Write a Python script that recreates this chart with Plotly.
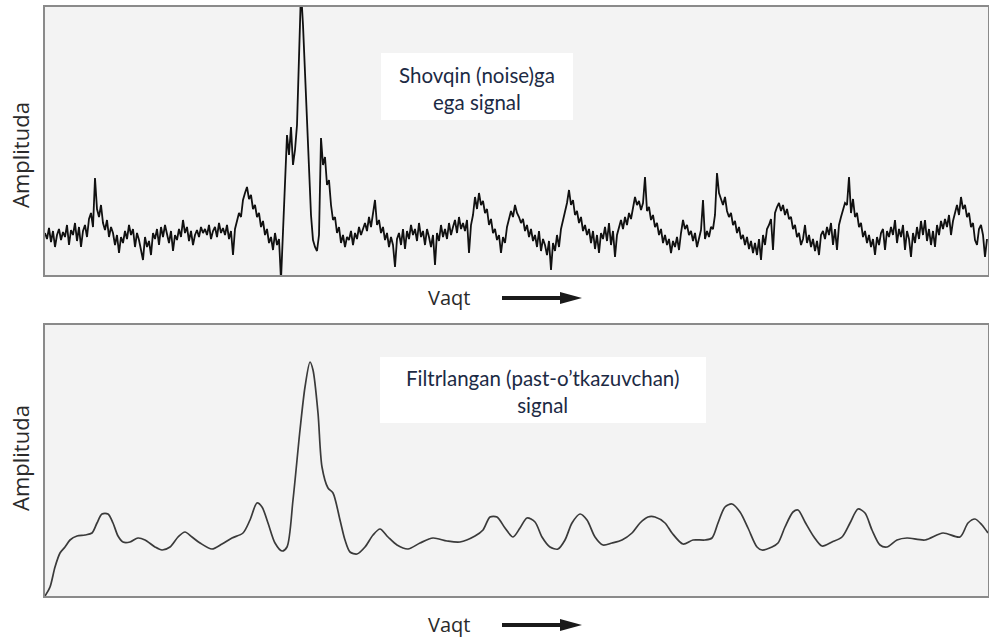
import plotly.graph_objects as go

W, H = 989, 640

# ---- Data (x = time index, values = amplitude) ----
noisy_time = list(range(45, 988, 2))
noisy_amp = [
    42, 36, 47, 33, 44, 28, 40, 46, 35, 43,
    38, 50, 30, 45, 40, 52, 34, 48, 28, 44,
    50, 38, 56, 62, 48, 97, 66, 58, 70, 52,
    45, 55, 38, 48, 42, 30, 40, 22, 38, 32,
    44, 36, 50, 40, 46, 28, 42, 35, 25, 15,
    38, 28, 34, 20, 42, 36, 46, 30, 48, 38,
    50, 40, 32, 44, 24, 40, 35, 46, 38, 55,
    42, 48, 34, 44, 30, 40, 45, 38, 48, 42,
    46, 40, 50, 36, 44, 48, 38, 52, 42, 47,
    40, 50, 36, 44, 20, 46, 55, 62, 58, 75,
    82, 88, 76, 80, 66, 70, 58, 62, 48, 54,
    40, 46, 32, 38, 25, 42, 30, 36, -5, 45,
    88, 140, 120, 148, 110, 125, 150, 215, 285, 250,
    200, 150, 100, 60, 35, 28, 24, 40, 137, 110,
    118, 90, 95, 70, 55, 58, 42, 48, 32, 40,
    28, 38, 35, 44, 30, 42, 36, 48, 40, 46,
    52, 44, 58, 48, 60, 75, 50, 55, 42, 48,
    35, 42, 28, 38, 30, 8, 36, 42, 30, 46,
    26, 44, 36, 50, 40, 46, 34, 52, 38, 44,
    30, 46, 38, 28, 40, 10, 42, 34, 50, 38,
    46, 36, 52, 40, 48, 55, 42, 58, 46, 52,
    44, 55, 22, 50, 60, 78, 66, 82, 70, 74,
    62, 66, 50, 56, 42, 46, 35, 40, 22, 38,
    32, 48, 56, 64, 58, 70, 62, 58, 52, 56,
    44, 50, 38, 46, 34, 40, 28, 44, 24, 36,
    30, 20, 34, 5, 32, 24, 40, 28, 46, 55,
    62, 72, 85, 70, 75, 60, 64, 52, 58, 44,
    50, 40, 46, 32, 44, 26, 40, 22, 42, 36,
    48, 34, 52, 30, 44, 18, 40, 48, 55, 46,
    58, 50, 62, 56, 66, 78, 70, 74, 65, 72,
    98, 64, 68, 55, 60, 48, 52, 40, 46, 32,
    40, 30, 36, 22, 34, 28, 38, 25, 42, 55,
    46, 50, 40, 44, 34, 42, 28, 38, 45, 75,
    36, 44, 38, 48, 46, 60, 102, 82, 76, 70,
    78, 64, 58, 62, 50, 54, 42, 48, 36, 40,
    30, 38, 26, 34, 22, 32, 20, 36, 15, 40,
    30, 46, 50, 56, 25, 62, 68, 72, 64, 70,
    60, 66, 56, 58, 46, 50, 38, 42, 30, 36,
    50, 32, 40, 28, 36, 24, 34, 20, 40, 44,
    36, 48, 40, 52, 30, 46, 25, 50, 58, 66,
    72, 70, 98, 62, 76, 58, 62, 48, 52, 38,
    44, 32, 40, 28, 36, 20, 38, 30, 42, 46,
    25, 44, 38, 48, 40, 55, 32, 46, 38, 50,
    25, 44, 36, 18, 42, 32, 48, 36, 54, 40,
    55, 34, 46, 30, 44, 28, 50, 40, 54, 46,
    56, 48, 60, 40, 54, 62, 70, 60, 78, 66,
    70, 58, 62, 48, 52, 35, 30, 46, 50, 40,
    18, 36,
]

filtered_time = [
    45, 50, 55, 60, 65, 70, 77, 85, 92, 97, 102, 108, 113, 118, 123, 130, 138, 145,
    155, 162, 170, 178, 185, 192, 200, 212, 222, 232, 243, 250, 257, 262, 268, 275,
    282, 287, 293, 300, 305, 310, 313, 318, 322, 328, 333, 340, 345, 350, 357, 365,
    373, 380, 388, 397, 408, 420, 433, 447, 460, 475, 483, 490, 497, 505, 513, 520,
    527, 535, 542, 550, 558, 565, 572, 580, 587, 595, 603, 612, 622, 632, 640, 648,
    655, 665, 672, 683, 693, 705, 712, 718, 725, 732, 740, 748, 757, 762, 772, 778,
    785, 793, 798, 805, 814, 822, 832, 842, 850, 858, 865, 872, 880, 887, 897, 907,
    925, 943, 960, 968, 975, 982, 988,
]
filtered_amp = [
    0, 9, 29, 43, 49, 56, 60, 61, 63, 73, 82, 82, 73, 60, 54, 54, 58, 56,
    49, 46, 49, 59, 64, 59, 53, 47, 52, 58, 63, 76, 93, 89, 73, 53,
    45, 49, 96, 166, 209, 234, 226, 183, 129, 108, 103, 76, 56, 44, 42, 49,
    61, 67, 59, 51, 47, 53, 58, 55, 54, 60, 66, 79, 79, 68, 59, 68,
    78, 74, 59, 49, 47, 56, 73, 82, 76, 59, 51, 53, 56, 63, 73, 79,
    79, 73, 63, 52, 56, 56, 58, 73, 89, 92, 84, 68, 49, 46, 49, 53,
    69, 84, 86, 74, 59, 50, 54, 59, 73, 87, 83, 66, 51, 49, 56, 58,
    56, 63, 59, 73, 77, 71, 63,
]

top_text = "Shovqin (noise)ga<br>ega signal"
bottom_text = "Filtrlangan (past-o\u2019tkazuvchan)<br>signal"
y_label = "Amplituda"
x_label = "Vaqt"

# ---- helpers (pixel -> paper) ----
def px(x):
    return x / W

def py(y):
    return 1 - y / H

fig = go.Figure()
fig.add_trace(go.Scatter(x=noisy_time[:len(noisy_amp)], y=noisy_amp, mode="lines",
                         line=dict(color="#111111", width=1.8),
                         xaxis="x", yaxis="y", hoverinfo="skip"))
fig.add_trace(go.Scatter(x=filtered_time, y=filtered_amp, mode="lines",
                         line=dict(color="#3a3a3a", width=1.7, shape="spline", smoothing=0.8),
                         xaxis="x2", yaxis="y2", hoverinfo="skip"))

ax_common = dict(showgrid=False, zeroline=False, showticklabels=False, ticks="",
                 showline=True, mirror=True, linecolor="#8a8a8a", linewidth=2)

fig.update_layout(
    width=W, height=H,
    margin=dict(l=0, r=0, t=0, b=0),
    paper_bgcolor="white",
    plot_bgcolor="#f3f3f3",
    showlegend=False,
    xaxis=dict(domain=[px(45), px(988)], range=[45, 988], anchor="y", **ax_common),
    yaxis=dict(domain=[py(275), py(7)], range=[0, 268], anchor="x", **ax_common),
    xaxis2=dict(domain=[px(45), px(988)], range=[45, 988], anchor="y2", **ax_common),
    yaxis2=dict(domain=[py(596), py(325)], range=[0, 271], anchor="x2", **ax_common),
)

shapes = [
    dict(type="rect", xref="paper", yref="paper", x0=px(381), x1=px(573), y0=py(120), y1=py(53),
         fillcolor="white", line=dict(width=0), layer="above"),
    dict(type="rect", xref="paper", yref="paper", x0=px(380), x1=px(706), y0=py(423), y1=py(357),
         fillcolor="white", line=dict(width=0), layer="above"),
]
for ay in (298, 625):
    shapes.append(dict(type="line", xref="paper", yref="paper", x0=px(502), x1=px(566),
                       y0=py(ay), y1=py(ay), line=dict(color="#1a1a1a", width=4)))
    shapes.append(dict(type="path", xref="paper", yref="paper",
                       path=f"M {px(560)} {py(ay-6)} L {px(582)} {py(ay)} L {px(560)} {py(ay+6)} Z",
                       fillcolor="#1a1a1a", line=dict(width=0)))
fig.update_layout(shapes=shapes)

font_box = "Lato, 'Open Sans', sans-serif"
font_lbl = "'Open Sans', 'Noto Sans', sans-serif"

def A(text, x, y, size, color, family, angle=0):
    return dict(text=text, x=px(x), y=py(y), xref="paper", yref="paper", showarrow=False,
                xanchor="center", yanchor="middle", textangle=angle, align="center",
                font=dict(family=family, size=size, color=color))

ann = [
    A(top_text, 477, 89, 20.5, "#1c2a44", font_box),
    A(bottom_text, 542, 391, 20.5, "#1c2a44", font_box),
    A(y_label, 20, 155, 22, "#2a2a2a", font_lbl, -90),
    A(y_label, 20, 458, 22, "#2a2a2a", font_lbl, -90),
    A(x_label, 449, 297, 20, "#2a2a2a", font_lbl),
    A(x_label, 449, 624, 20, "#2a2a2a", font_lbl),
]
fig.update_layout(annotations=ann)

fig.write_html("out.html", config={"displayModeBar": False},
               post_script="document.body.style.margin='0';document.body.style.overflow='hidden';")
